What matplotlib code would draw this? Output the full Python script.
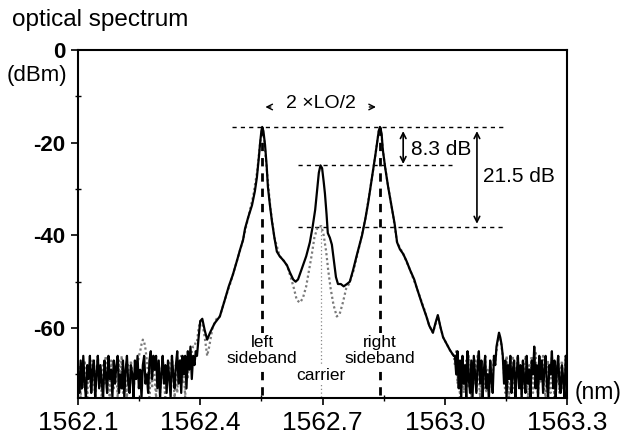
import numpy as np
import matplotlib
matplotlib.use("Agg")
from matplotlib import pyplot as plt

plt.rcParams['font.family'] = ['Liberation Sans', 'DejaVu Sans']
plt.rcParams['axes.unicode_minus'] = False

# noise floor, left of the spectrum (dBm)
noise_left_solid = [
    -70, -74, -67, -73, -66, -72, -75, -68, -71, -66,
    -74, -69, -67, -75, -70, -66, -73, -68, -72, -75,
    -67, -70, -74, -66, -71, -69, -75, -67, -72, -68,
    -66, -74, -70, -73, -67, -75, -69, -66, -72, -74,
    -68, -70, -75, -67, -71, -66, -73, -69, -75, -68,
    -66, -72, -70, -74, -67, -65, -71, -66, -69, -66,
    -73, -67, -75, -70, -66, -72, -68, -74, -67, -71,
    -75, -66, -70, -73, -68, -65, -72, -67, -74, -66,
    -70, -66, -73, -65, -69, -64, -71, -66, -68, -65]
noise_left_dotted = [
    -72, -68, -75, -69, -73, -67, -70, -75, -68, -72,
    -74, -67, -71, -75, -69, -66, -73, -70, -75, -68,
    -72, -66, -74, -69, -75, -67, -71, -73, -68, -70,
    -75, -67, -72, -66, -74, -69, -71, -75, -68, -73,
    -67, -70, -74, -69, -67, -68, -66, -65, -63.5, -62.5,
    -63, -64.5, -67, -70, -75, -68, -73, -66, -71, -75,
    -69, -67, -74, -70, -66, -72, -75, -68, -70, -67,
    -73, -66, -71, -75, -68, -74, -67, -70, -66, -72,
    -69, -75, -67, -71, -66, -68, -65, -64, -64, -63]

# noise floor, right of the spectrum (dBm)
noise_right_solid = [
    -66, -70, -65, -73, -67, -75, -66, -72, -68, -75,
    -65, -71, -74, -67, -75, -66, -70, -74, -68, -65,
    -72, -67, -75, -69, -66, -73, -70, -75, -67, -71,
    -74, -66, -68, -64, -62.5, -61, -62, -63.5, -66, -72,
    -67, -75, -68, -71, -66, -74, -69, -67, -75, -70,
    -66, -73, -68, -75, -67, -71, -74, -66, -72, -69,
    -75, -67, -70, -64, -73, -68, -75, -66, -71, -67,
    -74, -69, -66, -72, -75, -68, -70, -65, -73, -67,
    -75, -69, -66, -72, -74, -68, -71, -75, -66, -67]
noise_right_dotted = [
    -68, -65, -72, -67, -75, -69, -66, -74, -70, -67,
    -73, -66, -70, -75, -68, -72, -67, -74, -66, -71,
    -75, -68, -70, -73, -66, -74, -69, -75, -67, -72,
    -70, -66, -67, -65, -63, -61.5, -62.5, -64, -66, -70,
    -74, -66, -71, -75, -67, -70, -66, -73, -75, -68,
    -66, -72, -69, -75, -67, -73, -66, -70, -75, -68,
    -71, -66, -74, -69, -65, -70, -75, -67, -72, -68,
    -66, -73, -75, -69, -67, -71, -74, -66, -70, -75,
    -68, -72, -66, -74, -69, -67, -73, -70, -66, -68]

# main spectrum, solid trace (carrier not suppressed)
solid_wl = [1562.392, 1562.396, 1562.400, 1562.405, 1562.411, 1562.417, 1562.424, 1562.435,
            1562.448, 1562.460, 1562.470, 1562.480, 1562.490, 1562.498, 1562.505, 1562.510,
            1562.518, 1562.527, 1562.534, 1562.539, 1562.544, 1562.547, 1562.550, 1562.552,
            1562.555, 1562.559, 1562.563, 1562.566, 1562.571, 1562.576, 1562.582, 1562.588,
            1562.595, 1562.605, 1562.613, 1562.620, 1562.628, 1562.634, 1562.640, 1562.646,
            1562.652, 1562.660, 1562.669, 1562.676, 1562.682, 1562.687, 1562.691, 1562.695,
            1562.699, 1562.703, 1562.706, 1562.710, 1562.713, 1562.718, 1562.723, 1562.728,
            1562.733, 1562.738, 1562.745, 1562.752, 1562.760, 1562.767, 1562.775, 1562.785,
            1562.797, 1562.805, 1562.812, 1562.818, 1562.824, 1562.830, 1562.834, 1562.838,
            1562.841, 1562.845, 1562.848, 1562.854, 1562.861, 1562.866, 1562.871, 1562.877,
            1562.883, 1562.890, 1562.898, 1562.906, 1562.915, 1562.925, 1562.932, 1562.945,
            1562.955, 1562.962, 1562.971, 1562.977, 1562.983, 1562.990, 1562.996, 1563.005,
            1563.013, 1563.022]
solid_db = [-66, -62, -58.5, -58, -60.5, -62.5, -61, -59,
            -57.5, -54, -51, -48.5, -45.5, -43, -41, -38.5,
            -36, -33.5, -30.5, -27.5, -23, -20, -17.5, -16.6,
            -17.5, -20.5, -25, -29.5, -33.5, -37, -40.5, -43.5,
            -44.5, -45.5, -46.5, -48, -49.5, -50, -49.5, -48,
            -46.5, -44.5, -41.5, -38, -34.5, -30, -26.5, -24.9,
            -25.5, -28.5, -31, -35.5, -39.5, -40.5, -42, -45.5,
            -49, -50.5, -50.5, -51, -50.5, -50, -47.5, -44,
            -40, -36.5, -33, -29.5, -26, -22.5, -20, -17.5,
            -16.6, -18, -21.5, -25.5, -29.5, -32, -34.5, -37.5,
            -41.5, -43, -44, -45.5, -47.5, -49.5, -51.5, -55,
            -57.5, -59.5, -61, -59, -57.2, -60, -62, -63.5,
            -64.8, -66]

# main spectrum, dotted trace (carrier suppressed)
dotted_wl = [1562.392, 1562.396, 1562.400, 1562.405, 1562.411, 1562.417, 1562.422, 1562.430,
             1562.440, 1562.448, 1562.460, 1562.475, 1562.490, 1562.505, 1562.518, 1562.530,
             1562.540, 1562.547, 1562.552, 1562.557, 1562.564, 1562.572, 1562.582, 1562.595,
             1562.605, 1562.613, 1562.622, 1562.630, 1562.637, 1562.645, 1562.652, 1562.660,
             1562.667, 1562.674, 1562.680, 1562.688, 1562.697, 1562.703, 1562.709, 1562.714,
             1562.720, 1562.727, 1562.735, 1562.742, 1562.750, 1562.758, 1562.765, 1562.775,
             1562.790, 1562.805, 1562.818, 1562.830, 1562.838, 1562.843, 1562.850, 1562.861,
             1562.871, 1562.883, 1562.898, 1562.915, 1562.932, 1562.950, 1562.962, 1562.971,
             1562.983, 1562.996, 1563.013, 1563.022]
dotted_db = [-63, -60, -58.5, -59, -62, -66, -64, -60,
             -58, -57.5, -54, -50, -45.5, -41, -36, -31.5,
             -26, -20, -17, -19.5, -26.5, -34, -40.5, -44.5,
             -45.5, -46.5, -49, -51.5, -54, -54.5, -53.5, -51,
             -47.5, -44, -40.5, -38.2, -38, -40, -43.5, -47.5,
             -51.5, -55, -57.5, -57, -54.5, -51.5, -50.5, -48,
             -42.5, -36.5, -29.5, -22.5, -17.5, -17, -23, -29.5,
             -34.5, -41.5, -44, -47.5, -51.5, -56, -59.5, -61,
             -57.5, -62, -64.8, -66]

left_sb, carrier_wl, right_sb = 1562.552, 1562.696, 1562.841
sideband_level, carrier_level, suppressed_level = -16.6, -24.9, -38.1

xticks = [1562.1, 1562.4, 1562.7, 1563.0, 1563.3]
yticks = [0, -20, -40, -60]

wl_left = np.linspace(1562.10, 1562.389, len(noise_left_solid))
wl_right = np.linspace(1563.025, 1563.30, len(noise_right_solid))

solid_x = np.concatenate([wl_left, solid_wl, wl_right])
solid_y = np.concatenate([noise_left_solid, solid_db, noise_right_solid])
dotted_x = np.concatenate([wl_left, dotted_wl, wl_right])
dotted_y = np.concatenate([noise_left_dotted, dotted_db, noise_right_dotted])

fig = plt.figure(figsize=(6.25, 4.34), dpi=100)
ax = fig.add_axes([0.1248, 0.0829, 0.7824, 0.8019])

ax.plot(dotted_x, dotted_y, color='#7a7a7a', lw=1.6, ls=(0, (1, 1.2)), zorder=2)
ax.plot(solid_x, solid_y, color='black', lw=1.6, zorder=3)

# marker lines
for wl in (left_sb, right_sb):
    ax.plot([wl, wl], [sideband_level, -75.5], color='black', lw=2, ls=(0, (3, 2.5)), zorder=4)
ax.plot([carrier_wl, carrier_wl], [suppressed_level, -75.5], color='#888888', lw=0.9,
        ls=(0, (1, 2)), zorder=1)

ax.plot([1562.478, 1563.153], [sideband_level] * 2, color='black', lw=1, ls=(0, (3, 3)), zorder=1)
ax.plot([1562.640, 1563.018], [carrier_level] * 2, color='black', lw=1, ls=(0, (3, 3)), zorder=1)
ax.plot([1562.640, 1563.143], [suppressed_level] * 2, color='black', lw=1, ls=(0, (3, 3)), zorder=1)

# level differences
ax.annotate('', xy=(1562.898, carrier_level - 0.3), xytext=(1562.898, sideband_level - 0.3),
            arrowprops=dict(arrowstyle='<->', color='black', lw=1.2))
ax.text(1562.918, -21.4, '8.3 dB', fontsize=15, va='center', ha='left')
ax.annotate('', xy=(1563.079, suppressed_level), xytext=(1563.079, sideband_level - 0.3),
            arrowprops=dict(arrowstyle='<->', color='black', lw=1.2))
ax.text(1563.094, -27.2, '21.5 dB', fontsize=15, va='center', ha='left')

# spacing label
ax.text(carrier_wl, -11.6, '2 \u00d7LO/2', fontsize=14, ha='center', va='center')
ax.annotate('', xy=(1562.553, -12.3), xytext=(1562.580, -12.3),
            arrowprops=dict(arrowstyle='->', color='black', lw=1))
ax.annotate('', xy=(1562.838, -12.3), xytext=(1562.808, -12.3),
            arrowprops=dict(arrowstyle='->', color='black', lw=1))

box = dict(facecolor='white', edgecolor='none', pad=1)
ax.text(left_sb, -64.8, 'left\nsideband', fontsize=12.5, ha='center', va='center',
        linespacing=1.1, bbox=box, zorder=5)
ax.text(right_sb, -64.8, 'right\nsideband', fontsize=12.5, ha='center', va='center',
        linespacing=1.1, bbox=box, zorder=5)
ax.text(carrier_wl, -70.2, 'carrier', fontsize=12.5, ha='center', va='center', bbox=box, zorder=5)

ax.set_xlim(1562.1, 1563.3)
ax.set_ylim(-75.1, 0)
ax.set_xticks(xticks)
ax.set_xticklabels([f'{v:.1f}' for v in xticks], fontsize=19)
ax.set_xticks([1562.25, 1562.55, 1562.85, 1563.15], minor=True)
ax.set_yticks(yticks)
ax.set_yticklabels([str(v) for v in yticks], fontsize=16, fontweight='bold')
ax.set_yticks([-10, -30, -50, -70], minor=True)
ax.tick_params(which='major', direction='out', length=5, width=1.2, pad=4)
ax.tick_params(which='minor', direction='inout', length=5, width=1)
for s in ax.spines.values():
    s.set_linewidth(1.5)

fig.text(12 / 625, 1 - 20 / 434, 'optical spectrum', fontsize=17.5, ha='left', va='center')
fig.text(7 / 625, 1 - 75 / 434, '(dBm)', fontsize=16, ha='left', va='center')
fig.text(575 / 625, 1 - 393 / 434, '(nm)', fontsize=16.5, ha='left', va='center')

fig.savefig('out.png', dpi=100)
